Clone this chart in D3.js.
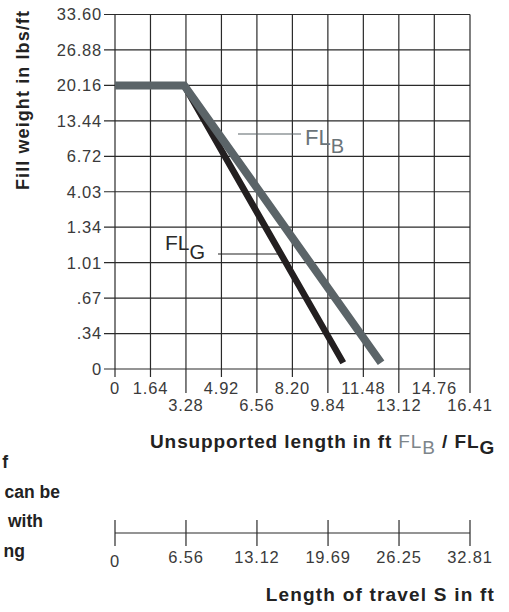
<!DOCTYPE html>
<html>
<head>
<meta charset="utf-8">
<script src="https://cdn.jsdelivr.net/npm/d3@7"></script>
<style>
  body { margin: 0; background: #fff; }
  svg { display: block; font-family: "Liberation Sans", Arial, sans-serif; }
</style>
</head>
<body>
<svg id="chart" width="509" height="612"></svg>
<script>
// values
var yLabels = ["0", ".34", ".67", "1.01", "1.34", "4.03", "6.72", "13.44", "20.16", "26.88", "33.60"];
var xTicks = [0, 1.64, 3.28, 4.92, 6.56, 8.20, 9.84, 11.48, 13.12, 14.76, 16.41];
var xLabels = ["0", "1.64", "3.28", "4.92", "6.56", "8.20", "9.84", "11.48", "13.12", "14.76", "16.41"];
var travelTicks = [0, 6.56, 13.12, 19.69, 26.25, 32.81];
var travelLabels = ["0", "6.56", "13.12", "19.69", "26.25", "32.81"];

// fill weight (lbs/ft) over unsupported length (ft)
var seriesG = [{x: 0, y: 20.16}, {x: 3.2, y: 20.16}, {x: 10.55, y: 0.06}];
var seriesB = [{x: 0, y: 20.16}, {x: 3.2, y: 20.16}, {x: 12.3, y: 0.06}];

// only the visible ends of the paragraph on the left
var paragraph = ["f", "can be", "with", "ng"];

var svg = d3.select("#chart");
var gridColor = "#2a2a2a";
var grayColor = "#5b6468";
var textColor = "#3a3a3a";

var x = d3.scaleLinear().domain([0, 16.41]).range([115, 470]);
var yValues = yLabels.map(function (d) { return +d; });
var y = d3.scaleLinear()
    .domain(yValues)
    .range(yValues.map(function (d, i) { return 369 - i * 35.45; }));

var grid = svg.append("g");

// horizontal grid lines with ticks on the left
grid.selectAll(".hline")
    .data(yValues)
    .enter().append("line")
    .attr("x1", 104).attr("x2", x(16.41))
    .attr("y1", function (d) { return y(d); })
    .attr("y2", function (d) { return y(d); })
    .style("stroke", gridColor)
    .style("stroke-width", 1.2);

// vertical grid lines, alternating tick lengths below
grid.selectAll(".vline")
    .data(xTicks)
    .enter().append("line")
    .attr("x1", function (d) { return x(d); })
    .attr("x2", function (d) { return x(d); })
    .attr("y1", y(33.60))
    .attr("y2", function (d, i) { return (i % 2 == 0 && i > 0) ? 393 : 377; })
    .style("stroke", gridColor)
    .style("stroke-width", 1.2);

svg.append("g").selectAll("text")
    .data(yLabels)
    .enter().append("text")
    .attr("x", 102)
    .attr("y", function (d) { return y(+d); })
    .attr("dy", "0.36em")
    .attr("text-anchor", "end")
    .style("font-size", "16.5px")
    .style("letter-spacing", "0.8px")
    .style("fill", textColor)
    .text(function (d) { return d; });

svg.append("g").selectAll("text")
    .data(xTicks)
    .enter().append("text")
    .attr("x", function (d) { return x(d); })
    .attr("y", function (d, i) { return (i % 2 == 0 && i > 0) ? 411 : 394; })
    .attr("text-anchor", "middle")
    .style("font-size", "16.5px")
    .style("letter-spacing", "0.8px")
    .style("fill", textColor)
    .text(function (d, i) { return xLabels[i]; });

// curves
var line = d3.line()
    .x(function (d) { return x(d.x); })
    .y(function (d) { return y(d.y); });

svg.append("path")
    .datum(seriesG)
    .attr("d", line)
    .style("fill", "none")
    .style("stroke", "#231f20")
    .style("stroke-width", 6.5)
    .style("stroke-linejoin", "miter");

svg.append("path")
    .datum(seriesB)
    .attr("d", line)
    .style("fill", "none")
    .style("stroke", grayColor)
    .style("stroke-width", 8)
    .style("stroke-linejoin", "miter");

// curve labels
svg.append("line")
    .attr("x1", 238).attr("x2", 301).attr("y1", 134).attr("y2", 134)
    .style("stroke", grayColor).style("stroke-width", 1.1);
var labB = svg.append("text")
    .attr("x", 305).attr("y", 145)
    .style("font-size", "22px")
    .style("fill", "#6b7479");
labB.append("tspan").text("FL");
labB.append("tspan").attr("dy", 8).style("font-size", "20px").text("B");

svg.append("line")
    .attr("x1", 218).attr("x2", 278).attr("y1", 254).attr("y2", 254)
    .style("stroke", "#222").style("stroke-width", 1.1);
var labG = svg.append("text")
    .attr("x", 165).attr("y", 250)
    .style("font-size", "21px")
    .style("fill", "#2a2a2a");
labG.append("tspan").text("FL");
labG.append("tspan").attr("dy", 9).style("font-size", "20px").text("G");

// axis titles
svg.append("text")
    .attr("transform", "translate(29,100) rotate(-90)")
    .attr("text-anchor", "middle")
    .style("font-size", "18px")
    .style("font-weight", "bold")
    .style("letter-spacing", "1.1px")
    .style("fill", "#222")
    .text("Fill weight in lbs/ft");

var xTitle = svg.append("text")
    .attr("x", 150).attr("y", 448)
    .style("font-size", "19px")
    .style("font-weight", "bold")
    .style("letter-spacing", "0.9px")
    .style("fill", "#222");
xTitle.append("tspan").text("Unsupported length in ft ");
xTitle.append("tspan").style("fill", "#7d858a").style("font-weight", "normal").text("FL");
xTitle.append("tspan").attr("dy", 6).style("fill", "#7d858a").style("font-weight", "normal").text("B");
xTitle.append("tspan").attr("dy", -6).text(" / FL");
xTitle.append("tspan").attr("dy", 6).text("G");

// second scale: length of travel
var s = d3.scaleLinear().domain([0, 32.81]).range([115, 470]);
var travel = svg.append("g");
travel.append("line")
    .attr("x1", s(0)).attr("x2", s(32.81)).attr("y1", 533).attr("y2", 533)
    .style("stroke", gridColor).style("stroke-width", 1.2);
travel.selectAll(".tick")
    .data(travelTicks)
    .enter().append("line")
    .attr("x1", function (d) { return s(d); })
    .attr("x2", function (d) { return s(d); })
    .attr("y1", 520).attr("y2", 546)
    .style("stroke", gridColor).style("stroke-width", 1.2);
travel.selectAll("text")
    .data(travelTicks)
    .enter().append("text")
    .attr("x", function (d) { return s(d); })
    .attr("y", function (d, i) { return i == 0 ? 567 : 563; })
    .attr("text-anchor", "middle")
    .style("font-size", "16.5px")
    .style("letter-spacing", "0.8px")
    .style("fill", textColor)
    .text(function (d, i) { return travelLabels[i]; });

svg.append("text")
    .attr("x", 495).attr("y", 601)
    .attr("text-anchor", "end")
    .style("font-size", "19px")
    .style("font-weight", "bold")
    .style("letter-spacing", "1.2px")
    .style("fill", "#222")
    .text("Length of travel S in ft");

var paraEnds = [8, 60, 43, 25];
svg.append("g").selectAll("text")
    .data(paragraph)
    .enter().append("text")
    .attr("x", function (d, i) { return paraEnds[i]; })
    .attr("y", function (d, i) { return 468 + i * 29.5; })
    .attr("text-anchor", "end")
    .style("font-size", "17.5px")
    .style("font-weight", "bold")
    .style("fill", "#222")
    .text(function (d) { return d; });
</script>
</body>
</html>
